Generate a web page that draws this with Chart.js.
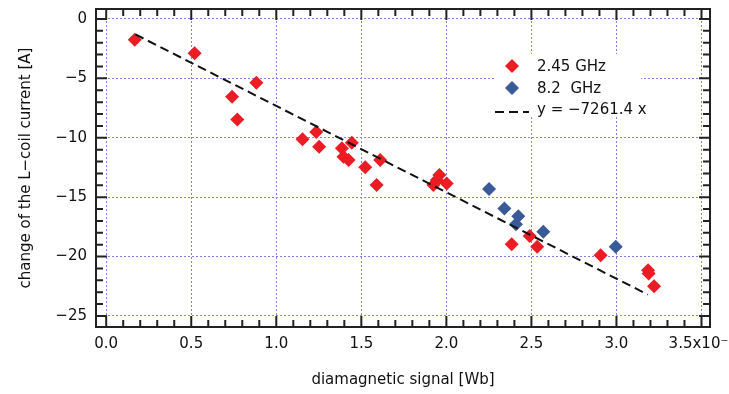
<!DOCTYPE html>
<html>
<head>
<meta charset="utf-8">
<script src="https://cdn.jsdelivr.net/npm/chart.js@4.4.1/dist/chart.umd.min.js"></script>
<style>
  html, body { margin: 0; padding: 0; background: #fff; }
  canvas { display: block; }
</style>
</head>
<body>
<canvas id="myChart" width="729" height="394"></canvas>
<script>
// Dados (x em 10^-3 Wb, y em A)
const seriesNames = ['2.45 GHz', '8.2  GHz', 'y = \u22127261.4 x'];

const x245 = [0.168, 0.52, 0.74, 0.883, 0.771, 1.154, 1.235, 1.252, 1.386, 1.444, 1.395, 1.425,
              1.523, 1.611, 1.59, 1.959, 1.944, 1.924, 2.002, 2.384, 2.49, 2.534, 2.907, 3.186, 3.189, 3.221];
const y245 = [-1.74, -2.89, -6.55, -5.37, -8.47, -10.13, -9.52, -10.76, -10.89, -10.42, -11.6, -11.88,
              -12.49, -11.88, -13.98, -13.14, -13.56, -13.98, -13.84, -18.96, -18.26, -19.18, -19.88, -21.15, -21.42, -22.49];

const x82 = [2.251, 2.341, 2.423, 2.409, 2.57, 2.996];
const y82 = [-14.32, -15.95, -16.6, -17.27, -17.92, -19.18];

const fitX = [0.172, 3.184];
const fitY = [-1.3, -23.2];

const xTickValues = [0, 0.5, 1, 1.5, 2, 2.5, 3, 3.5];
const xTickLabels = ['0.0', '0.5', '1.0', '1.5', '2.0', '2.5', '3.0', '3.5x10\u207B\u00B3'];
const yTickValues = [0, -5, -10, -15, -20, -25];
const yTickLabels = ['0', '\u22125', '\u221210', '\u221215', '\u221220', '\u221225'];

const toPoints = (xs, ys) => xs.map((x, i) => ({ x: x, y: ys[i] }));

const FONT = 'DejaVu Sans';
const RED = 'rgb(236, 28, 36)';
const BLUE = 'rgb(57, 89, 153)';
const GRID = 'rgb(130, 130, 225)';

// moldura, ticks para dentro e legenda
const frameAndLegend = {
    id: 'frameAndLegend',
    afterDraw(chart) {
        const ctx = chart.ctx;
        const a = chart.chartArea;
        const xs = chart.scales.x, ys = chart.scales.y;
        ctx.save();
        ctx.strokeStyle = '#222';
        ctx.lineWidth = 2;
        ctx.beginPath();
        for (let i = 0; i <= 35; i++) {
            const px = xs.getPixelForValue(i / 10);
            const len = i % 5 === 0 ? 11 : 7;
            ctx.moveTo(px, a.bottom); ctx.lineTo(px, a.bottom - len);
            ctx.moveTo(px, a.top); ctx.lineTo(px, a.top + len);
        }
        for (let j = 0; j >= -25; j--) {
            const py = ys.getPixelForValue(j);
            const len = j % 5 === 0 ? 11 : 7;
            ctx.moveTo(a.left, py); ctx.lineTo(a.left + len, py);
            ctx.moveTo(a.right, py); ctx.lineTo(a.right - len, py);
        }
        ctx.stroke();
        ctx.strokeRect(a.left, a.top, a.right - a.left, a.bottom - a.top);

        // legenda
        const lx = a.left + 398, ly = a.top + 45;
        ctx.fillStyle = '#fff';
        ctx.fillRect(lx, ly, 147, 61);
        const ds = chart.data.datasets;
        ctx.font = '15px "' + FONT + '"';
        ctx.textBaseline = 'middle';
        ctx.textAlign = 'left';
        const rows = [ly + 13, ly + 35, ly + 56];
        [0, 1].forEach(k => {
            ctx.fillStyle = ds[k].backgroundColor;
            const cx = lx + 18, cy = rows[k] - 1, r = 7;
            ctx.beginPath();
            ctx.moveTo(cx, cy - r); ctx.lineTo(cx + r, cy); ctx.lineTo(cx, cy + r); ctx.lineTo(cx - r, cy);
            ctx.closePath();
            ctx.fill();
        });
        ctx.strokeStyle = '#111';
        ctx.lineWidth = 2;
        ctx.setLineDash([9, 5]);
        ctx.beginPath();
        ctx.moveTo(lx + 1, rows[2] + 2); ctx.lineTo(lx + 35, rows[2] + 2);
        ctx.stroke();
        ctx.setLineDash([]);
        ctx.fillStyle = '#111';
        ds.forEach((d, k) => ctx.fillText(d.label, lx + 43, rows[k]));
        ctx.restore();
    }
};

const ctx = document.getElementById('myChart').getContext('2d');
const myChart = new Chart(ctx, {
    type: 'scatter',
    data: {
        datasets: [{
            label: seriesNames[0],
            data: toPoints(x245, y245),
            pointStyle: 'rectRot',
            pointRadius: 7,
            backgroundColor: RED,
            borderWidth: 0,
            order: 2
        }, {
            label: seriesNames[1],
            data: toPoints(x82, y82),
            pointStyle: 'rectRot',
            pointRadius: 7,
            backgroundColor: BLUE,
            borderWidth: 0,
            order: 1
        }, {
            label: seriesNames[2],
            data: toPoints(fitX, fitY),
            showLine: true,
            pointRadius: 0,
            borderColor: '#111',
            backgroundColor: '#111',
            borderWidth: 2,
            borderDash: [9, 5],
            order: 0
        }]
    },
    options: {
        responsive: false,
        animation: false,
        events: [],
        layout: { padding: { top: 9, right: 19, left: 0, bottom: 0 } },
        plugins: { legend: { display: false }, tooltip: { enabled: false } },
        scales: {
            x: {
                type: 'linear',
                min: -0.06,
                max: 3.55,
                afterBuildTicks: s => { s.ticks = xTickValues.map(v => ({ value: v })); },
                afterFit: s => { s.height = 67; s.paddingLeft = 0; s.paddingRight = 0; },
                ticks: {
                    autoSkip: false,
                    maxRotation: 0,
                    padding: 8,
                    color: '#111',
                    font: { family: FONT, size: 15 },
                    callback: (v, i) => xTickLabels[i]
                },
                grid: { color: GRID, lineWidth: 1, drawTicks: false },
                border: { display: false, dash: [2, 2] },
                title: {
                    display: true,
                    text: 'diamagnetic signal [Wb]',
                    color: '#111',
                    font: { family: FONT, size: 15 },
                    padding: { top: 0, bottom: 5 }
                }
            },
            y: {
                type: 'linear',
                min: -25.93,
                max: 0.84,
                afterBuildTicks: s => { s.ticks = yTickValues.map(v => ({ value: v })); },
                afterFit: s => { s.width = 96; s.paddingTop = 0; s.paddingBottom = 0; },
                ticks: {
                    autoSkip: false,
                    padding: 9,
                    color: '#111',
                    font: { family: FONT, size: 15 },
                    callback: (v, i) => yTickLabels[i]
                },
                grid: { color: GRID, lineWidth: 1, drawTicks: false },
                border: { display: false, dash: [2, 2] },
                title: {
                    display: true,
                    text: 'change of the L\u2212coil current [A]',
                    color: '#111',
                    font: { family: FONT, size: 15 },
                    padding: { top: 17, bottom: 0 }
                }
            }
        }
    },
    plugins: [frameAndLegend]
});
</script>
</body>
</html>
